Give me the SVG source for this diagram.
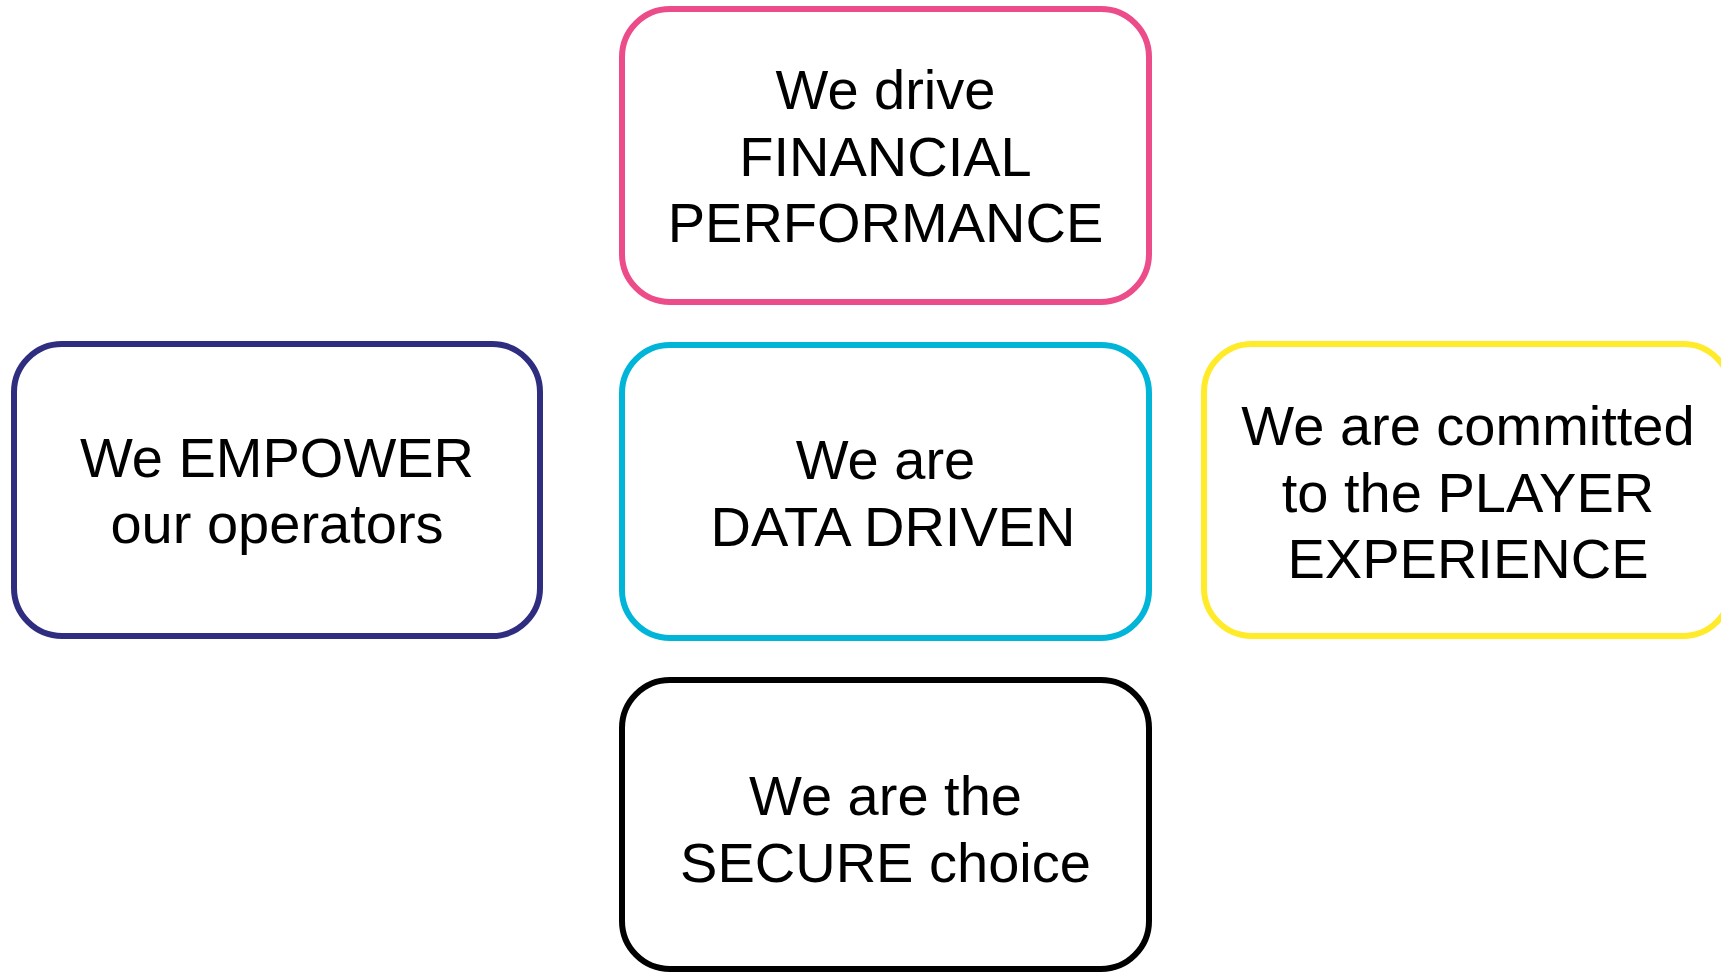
<svg xmlns="http://www.w3.org/2000/svg" width="1721" height="972" viewBox="0 0 1721 972">
  <style>
    .box { fill: #ffffff; stroke-width: 6; }
    .label { font-family: "Liberation Sans", Arial, sans-serif; font-size: 56px; fill: #000000; text-anchor: middle; }
    .pink { stroke: #EC4C89; }
    .navy { stroke: #2E2D7F; }
    .cyan { stroke: #00B5D8; }
    .yellow { stroke: #FFEB2A; }
    .black { stroke: #000000; }
  </style>
  <rect width="1721" height="972" fill="#ffffff"/>

  <g id="connectors"></g>

  <g id="node-financial">
    <rect class="box pink" x="622" y="9" width="527" height="293" rx="48" ry="48"/>
    <text class="label" x="885.5" y="109">We drive</text>
    <text class="label" x="885.5" y="175.5">FINANCIAL</text>
    <text class="label" x="885.5" y="242">PERFORMANCE</text>
  </g>

  <g id="node-empower">
    <rect class="box navy" x="14" y="344" width="526" height="292" rx="48" ry="48"/>
    <text class="label" x="277" y="477">We EMPOWER</text>
    <text class="label" x="277" y="543">our operators</text>
  </g>

  <g id="node-data">
    <rect class="box cyan" x="622" y="345" width="527" height="293" rx="48" ry="48"/>
    <text class="label" x="885.5" y="479">We are</text>
    <text class="label" x="893" y="546">DATA DRIVEN</text>
  </g>

  <g id="node-player">
    <rect class="box yellow" x="1204" y="344" width="527" height="292" rx="48" ry="48"/>
    <text class="label" x="1468" y="445">We are committed</text>
    <text class="label" x="1468" y="511.5">to the PLAYER</text>
    <text class="label" x="1468" y="578">EXPERIENCE</text>
  </g>

  <g id="node-secure">
    <rect class="box black" x="622" y="680" width="527" height="289" rx="48" ry="48"/>
    <text class="label" x="885.5" y="815">We are the</text>
    <text class="label" x="885.5" y="881.5">SECURE choice</text>
  </g>
</svg>
